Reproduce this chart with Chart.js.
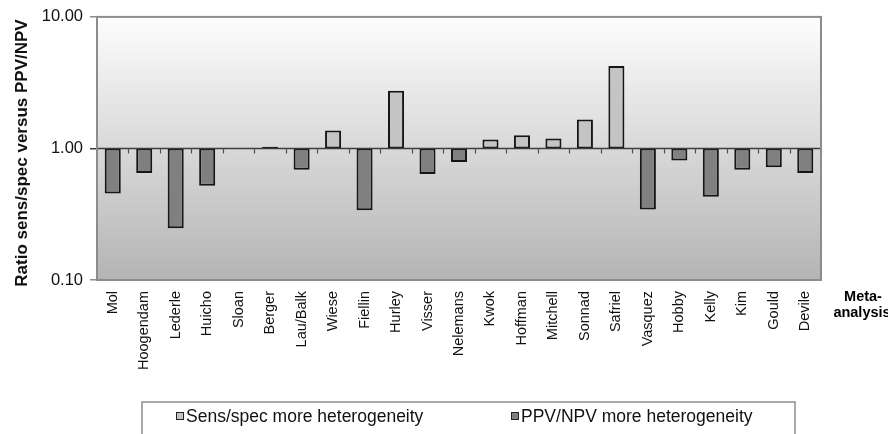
<!DOCTYPE html>
<html>
<head>
<meta charset="utf-8">
<script src="https://cdn.jsdelivr.net/npm/chart.js@4.4.1/dist/chart.umd.min.js"></script>
<style>
  html, body { margin: 0; padding: 0; background: #ffffff; }
  #wrap { width: 888px; height: 434px; position: relative; }
</style>
</head>
<body>
<div id="wrap"><canvas id="chart" width="888" height="434"></canvas></div>
<script>
// Meta-analyses along the horizontal axis
const categories = ['Mol', 'Hoogendam', 'Lederle', 'Huicho', 'Sloan', 'Berger', 'Lau/Balk',
  'Wiese', 'Fiellin', 'Hurley', 'Visser', 'Nelemans', 'Kwok', 'Hoffman', 'Mitchell',
  'Sonnad', 'Safriel', 'Vasquez', 'Hobby', 'Kelly', 'Kim', 'Gould', 'Devile'];

// Ratio > 1: sens/spec show more heterogeneity
const sensSpecMore = [null, null, null, null, null, 1.03, null,
  1.37, null, 2.74, null, null, 1.17, 1.26, 1.19,
  1.66, 4.23, null, null, null, null, null, null];

// Ratio < 1: PPV/NPV show more heterogeneity
const ppvNpvMore = [0.455, 0.65, 0.247, 0.52, null, null, 0.69,
  null, 0.339, null, 0.64, 0.79, null, null, null,
  null, null, 0.344, 0.81, 0.43, 0.69, 0.72, 0.65];

const yTickValues = [0.1, 1, 10];
const yTickLabels = ['0.10', '1.00', '10.00'];
const seriesNames = ['Sens/spec more heterogeneity', 'PPV/NPV more heterogeneity'];
const axisTitle = 'Ratio sens/spec versus PPV/NPV';
const categoryAxisTitle = ['Meta-', 'analysis'];

const LIGHT = '#c4c4c4';
const DARK = '#808080';
const FONT = '"Liberation Sans", Arial, sans-serif';

// bars grow from the 1.00 reference line
const fromOne = arr => arr.map(v => (v == null ? null : [1, v]));

const plotDecor = {
  id: 'plotDecor',
  beforeDatasetsDraw(chart) {
    const { ctx, chartArea: a } = chart;
    const g = ctx.createLinearGradient(0, a.top, 0, a.bottom);
    g.addColorStop(0, '#fdfdfd');
    g.addColorStop(1, '#b4b4b4');
    ctx.save();
    ctx.fillStyle = g;
    ctx.fillRect(a.left, a.top, a.right - a.left, a.bottom - a.top);
    ctx.restore();
  },
  afterDatasetsDraw(chart) {
    const { ctx, chartArea: a, scales } = chart;
    const y1 = Math.round(scales.y.getPixelForValue(1)) + 0.5;
    ctx.save();
    // reference line at 1.00 with tick marks between categories
    ctx.strokeStyle = '#3c3c3c';
    ctx.lineWidth = 1.5;
    ctx.beginPath();
    ctx.moveTo(a.left, y1);
    ctx.lineTo(a.right, y1);
    ctx.stroke();
    ctx.strokeStyle = '#505050';
    ctx.lineWidth = 1.2;
    const step = (a.right - a.left) / categories.length;
    for (let i = 1; i <= categories.length; i++) {
      const x = Math.round(a.left + i * step) + 0.5;
      ctx.beginPath();
      ctx.moveTo(x, y1);
      ctx.lineTo(x, y1 + 5);
      ctx.stroke();
    }
    // plot frame
    ctx.strokeStyle = '#8c8c8c';
    ctx.lineWidth = 2;
    ctx.strokeRect(a.left, a.top, a.right - a.left, a.bottom - a.top);
    ctx.restore();
  },
  afterDraw(chart) {
    const { ctx } = chart;
    ctx.save();
    // value axis title, rotated
    ctx.save();
    ctx.translate(22, 153);
    ctx.rotate(-Math.PI / 2);
    ctx.fillStyle = '#111';
    ctx.font = 'bold 17px ' + FONT;
    ctx.textAlign = 'center';
    ctx.textBaseline = 'middle';
    ctx.fillText(axisTitle, 0, 0);
    ctx.restore();

    // category axis caption
    ctx.fillStyle = '#000';
    ctx.font = 'bold 14.5px ' + FONT;
    ctx.textAlign = 'center';
    ctx.textBaseline = 'middle';
    ctx.fillText(categoryAxisTitle[0], 863, 297);
    ctx.fillText(categoryAxisTitle[1], 862, 313);

    // legend box
    ctx.strokeStyle = '#8c8c8c';
    ctx.lineWidth = 1.5;
    ctx.strokeRect(142, 402, 653, 40);
    const items = [
      { x: 176, color: LIGHT, text: seriesNames[0] },
      { x: 511, color: DARK, text: seriesNames[1] }
    ];
    ctx.font = '17.5px ' + FONT;
    ctx.textAlign = 'left';
    items.forEach(it => {
      ctx.fillStyle = it.color;
      ctx.fillRect(it.x, 412, 8, 8);
      ctx.strokeStyle = '#222';
      ctx.lineWidth = 1;
      ctx.strokeRect(it.x + 0.5, 412.5, 7, 7);
      ctx.fillStyle = '#111';
      ctx.fillText(it.text, it.x + 10, 417);
    });
    ctx.restore();
  }
};

new Chart(document.getElementById('chart'), {
  type: 'bar',
  data: {
    labels: categories,
    datasets: [
      {
        label: seriesNames[0],
        data: fromOne(sensSpecMore),
        backgroundColor: LIGHT,
        borderColor: '#161616',
        borderWidth: 2,
        borderSkipped: false,
        grouped: false,
        categoryPercentage: 1,
        barPercentage: 0.51
      },
      {
        label: seriesNames[1],
        data: fromOne(ppvNpvMore),
        backgroundColor: DARK,
        borderColor: '#161616',
        borderWidth: 2,
        borderSkipped: false,
        grouped: false,
        categoryPercentage: 1,
        barPercentage: 0.51
      }
    ]
  },
  options: {
    responsive: false,
    animation: false,
    layout: { padding: { top: 15, right: 67, bottom: 0, left: 0 } },
    plugins: {
      legend: { display: false },
      tooltip: { enabled: false }
    },
    scales: {
      x: {
        grid: { display: false },
        border: { display: false },
        ticks: {
          autoSkip: false,
          minRotation: 90,
          maxRotation: 90,
          padding: 3,
          color: '#111',
          font: { family: FONT, size: 14.5 }
        },
        afterFit(scale) { scale.height = 154; }
      },
      y: {
        type: 'logarithmic',
        min: 0.1,
        max: 10,
        border: { display: false },
        grid: {
          drawOnChartArea: false,
          drawTicks: true,
          tickLength: 7,
          lineWidth: 1.5,
          color: ctx => (ctx.tick && ctx.tick.value === 1 ? '#3c3c3c' : '#8c8c8c')
        },
        afterBuildTicks(scale) {
          scale.ticks = yTickValues.map(v => ({ value: v }));
        },
        ticks: {
          padding: 7,
          color: '#111',
          font: { family: FONT, size: 16.5 },
          callback: (v) => {
            const i = yTickValues.indexOf(v);
            return i >= 0 ? yTickLabels[i] : '';
          }
        },
        afterFit(scale) { scale.width = 97; }
      }
    }
  },
  plugins: [plotDecor]
});
</script>
</body>
</html>
